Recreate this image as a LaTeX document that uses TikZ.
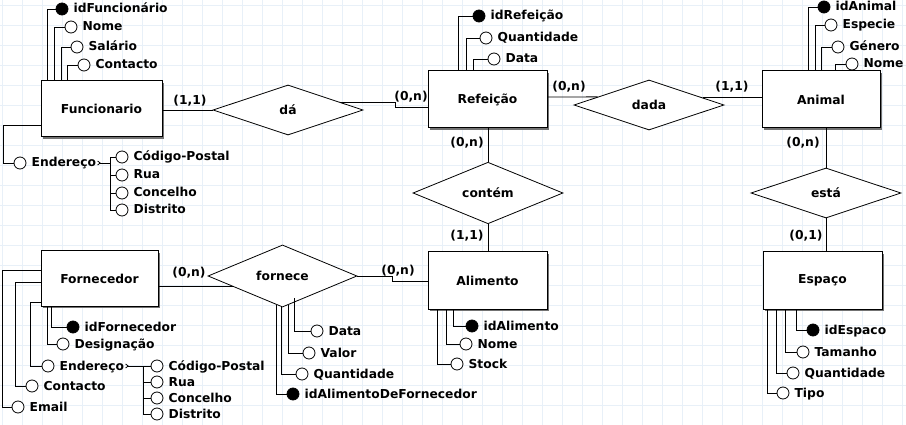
\documentclass[tikz,border=0pt]{standalone}
\usepackage{fontspec}
\setmainfont{DejaVu Sans}
\usetikzlibrary{shapes,arrows.meta,shadows,calc}
\definecolor{grelha}{RGB}{232,240,248}

\begin{document}
\begin{tikzpicture}[x=1pt,y=-1pt,font=\bfseries\fontsize{12.3}{14}\selectfont,label distance=5pt,
  entidade/.style={draw,fill=white,line width=1pt,minimum width=119pt,minimum height=57pt,inner sep=0pt,
    drop shadow={shadow xshift=2pt,shadow yshift=-2pt,opacity=1,fill=black!55}},
  relacao/.style={diamond,draw,fill=white,line width=.8pt,minimum width=150pt,minimum height=50pt,inner sep=0pt},
  atrib/.style={circle,draw,fill=white,line width=.8pt,minimum size=12pt,inner sep=0pt},
  chave/.style={atrib,fill=black},
  card/.style={inner sep=0pt},
  liga/.style={line width=.8pt},
  every label/.style={inner sep=0pt,text height=9pt,text depth=1pt}]
\useasboundingbox (0,0) rectangle (906,425);
\fill[white] (0,0) rectangle (906,425);
\foreach \x in {2.7,22.7,...,902.7} \draw[grelha,line width=.8pt] (\x,0) -- (\x,425);
\foreach \y in {5,25,...,425} \draw[grelha,line width=.8pt] (0,\y) -- (906,\y);

\node[entidade,minimum width=121pt,minimum height=56pt] (func) at (101.5,109) {Funcionario};
\node[entidade] (refe) at (487.5,99.5) {Refeição};
\node[entidade,minimum width=118pt] (anim) at (821,99.5) {Animal};
\node[entidade,minimum width=117pt,minimum height=55pt] (forn) at (99.5,278.5) {Fornecedor};
\node[entidade] (alim) at (487.5,280.5) {Alimento};
\node[entidade] (espa) at (822.5,280.5) {Espaço};

\node[relacao] (da) at (288,110) {dá};
\node[relacao] (dada) at (649,105) {dada};
\node[relacao] (contem) at (488,193) {contém};
\node[relacao] (esta) at (826,193) {está};
\node[relacao,minimum width=149pt] (forne) at (282.5,276) {fornece};

\node[card] (c1) at (190,101) {(1,1)};
\node[card] (c2) at (411,97) {(0,n)};
\node[card] (c3) at (569,87) {(0,n)};
\node[card] (c4) at (732,87) {(1,1)};
\node[card] (c5) at (467,143) {(0,n)};
\node[card] (c6) at (467,236) {(1,1)};
\node[card] (c7) at (803,143) {(0,n)};
\node[card] (c8) at (806,236) {(0,1)};
\node[card] (c9) at (189,273) {(0,n)};
\node[card] (c10) at (398,271) {(0,n)};

\draw[liga] (func.east |- da.west) -- (da.west);
\draw[liga] ($(da.north)!.7!(da.east)$) -- ++(55,0) |- (refe.west |- 0,107);
\draw[liga] (refe.east |- 0,97) -- ($(dada.west)!.32!(dada.north)$);
\coordinate (dadaR) at ($(dada.north)!.71!(dada.east)$);
\draw[liga] (dadaR) -- (anim.west |- dadaR);
\draw[liga] (contem.north |- refe.south) -- (contem.north);
\draw[liga] (contem.south) -- (contem.south |- alim.north);
\draw[liga] (esta.north |- anim.south) -- (esta.north);
\draw[liga] (esta.south) -- (esta.south |- espa.north);
\draw[liga] (forn.east |- 0,286) -- ++(25,0) |- ($(forne.west)!.34!(forne.south)$);
\draw[liga] (forne.east) -- ++(35,0) |- (alim.west |- 0,281);

\node[chave,label=right:idFuncionário] (fid) at (62,9) {};
\node[atrib,label=right:Nome] (fnom) at (71,27) {};
\node[atrib,label=right:Salário] (fsal) at (77,47) {};
\node[atrib,label=right:Contacto] (fcon) at (84,65) {};
\draw[liga] (fid) -| ([xshift=7pt]func.north west);
\draw[liga] (fnom) -| ([xshift=14pt]func.north west);
\draw[liga] (fsal) -| ([xshift=21pt]func.north west);
\draw[liga] (fcon) -| ([xshift=27pt]func.north west);
\node[atrib,label={[name=fendl]right:Endereço}] (fend) at (20,163) {};
\draw[liga] ([yshift=-16pt]func.west) -- ++(-37,0) |- (fend);
\coordinate (fbar) at (110,163);
\draw[liga,{Straight Barb[length=2.5pt,width=4pt,reversed]}-] ([xshift=1pt]fendl.east) -- (fbar);
\node[atrib,label=right:Código-Postal] (fcp) at (122,157) {};
\node[atrib,label=right:Rua] (frua) at (122,175) {};
\node[atrib,label=right:Concelho] (fconc) at (122,193) {};
\node[atrib,label=right:Distrito] (fdist) at (122,210) {};
\foreach \a in {fcp,frua,fconc,fdist} \draw[liga] (fbar) |- (\a);

\node[chave,label=right:idRefeição] (rid) at (479,16) {};
\node[atrib,label=right:Quantidade] (rqua) at (486,38) {};
\node[atrib,label=right:Data] (rdat) at (494,59) {};
\draw[liga] (rid) -| ([xshift=31pt]refe.north west);
\draw[liga] (rqua) -| ([xshift=39pt]refe.north west);
\draw[liga] (rdat) -| ([xshift=46pt]refe.north west);

\node[chave,label=right:idAnimal] (aid) at (824,7) {};
\node[atrib,label=right:Especie] (aesp) at (831,25) {};
\node[atrib,label=right:Género] (agen) at (838,47) {};
\node[atrib,label=right:Nome] (anom) at (852,64) {};
\draw[liga] (aid) -| ([xshift=47pt]anim.north west);
\draw[liga] (aesp) -| ([xshift=54pt]anim.north west);
\draw[liga] (agen) -| ([xshift=60pt]anim.north west);
\draw[liga] (anom) -| ([xshift=74pt]anim.north west);

\node[chave,label=right:idAlimento] (lid) at (472,326) {};
\node[atrib,label=right:Nome] (lnom) at (466,344) {};
\node[atrib,label=right:Stock] (lsto) at (457,364) {};
\draw[liga] (lid) -| ([xshift=26pt]alim.south west);
\draw[liga] (lnom) -| ([xshift=19pt]alim.south west);
\draw[liga] (lsto) -| ([xshift=10pt]alim.south west);

\node[chave,label=right:idEspaco] (eid) at (813,330) {};
\node[atrib,label=right:Tamanho] (etam) at (803,352) {};
\node[atrib,label=right:Quantidade] (equa) at (793,373) {};
\node[atrib,label=right:Tipo] (etip) at (783,393) {};
\draw[liga] (eid) -| ([xshift=34pt]espa.south west);
\draw[liga] (etam) -| ([xshift=23pt]espa.south west);
\draw[liga] (equa) -| ([xshift=14pt]espa.south west);
\draw[liga] (etip) -| ([xshift=5pt]espa.south west);

\node[chave,label=right:idFornecedor] (vid) at (73,327) {};
\node[atrib,label=right:Designação] (vdes) at (63,344) {};
\draw[liga] (vid) -| ([xshift=11pt]forn.south west);
\draw[liga] (vdes) -| ([xshift=7pt]forn.south west);
\node[atrib,label={[name=vendl]right:Endereço}] (vend) at (48,366) {};
\node[atrib,label=right:Contacto] (vcon) at (32,386) {};
\node[atrib,label=right:Email] (vema) at (18,407) {};
\draw[liga] (forn.west |- 0,302) -- ++(-10,0) |- (vend);
\draw[liga] (forn.west |- 0,282) -- ++(-25,0) |- (vcon);
\draw[liga] (forn.west |- 0,270) -- ++(-38,0) |- (vema);
\coordinate (vbar) at (143,366);
\draw[liga,{Straight Barb[length=2.5pt,width=4pt,reversed]}-] ([xshift=1pt]vendl.east) -- (vbar);
\node[atrib,label=right:Código-Postal] (vcp) at (157,366) {};
\node[atrib,label=right:Rua] (vrua) at (157,382) {};
\node[atrib,label=right:Concelho] (vconc) at (157,398) {};
\node[atrib,label=right:Distrito] (vdist) at (157,414) {};
\foreach \a in {vcp,vrua,vconc,vdist} \draw[liga] (vbar) |- (\a);

\node[atrib,label=right:Data] (udat) at (317,331) {};
\node[atrib,label=right:Valor] (uval) at (309,353) {};
\node[atrib,label=right:Quantidade] (uqua) at (302,374) {};
\node[chave,label=right:idAlimentoDeFornecedor] (uid) at (293,394) {};
\draw[liga] (udat) -| ([xshift=11.5pt,yshift=9pt]forne.south);
\draw[liga] (uval) -| ([xshift=5.5pt,yshift=2pt]forne.south);
\draw[liga] (uqua) -| ([xshift=-1.5pt,yshift=1pt]forne.south);
\draw[liga] (uid) -| ([xshift=-6.5pt,yshift=2pt]forne.south);
\end{tikzpicture}
\end{document}
